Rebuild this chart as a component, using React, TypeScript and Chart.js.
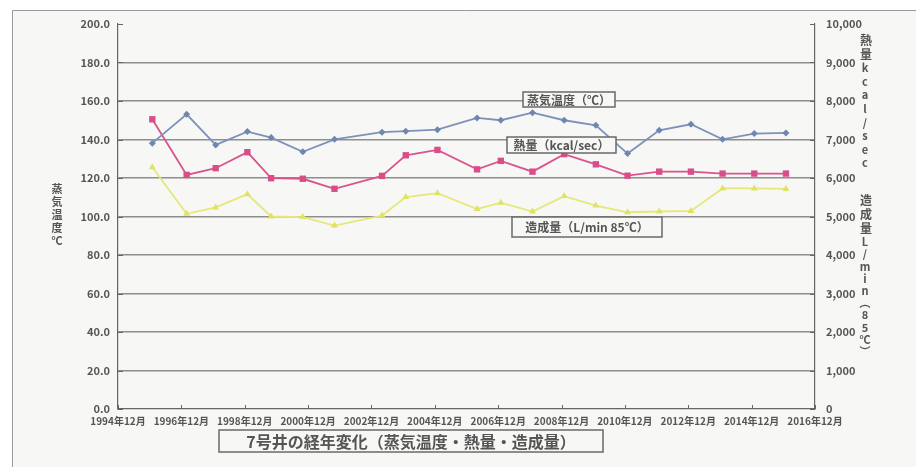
import React, { useEffect, useRef } from "react";
import { Chart, registerables } from "chart.js";

Chart.register(...registerables);

// ---- data ----
const measureDates = [
  "1996-01", "1997-02", "1998-01", "1999-01", "1999-10", "2000-10", "2001-10",
  "2003-04", "2004-01", "2005-01", "2006-04", "2007-01", "2008-01", "2009-01",
  "2010-01", "2011-01", "2012-01", "2013-01", "2014-01", "2015-01", "2016-01",
];
const steamTemp = [
  138.1, 153.1, 137.2, 144.1, 141.0, 133.6, 140.1, 143.8, 144.3, 145.1, 151.2,
  150.0, 153.9, 150.0, 147.4, 132.7, 144.8, 147.9, 140.1, 143.1, 143.4,
];
const heatOutput = [
  7525, 6080, 6255, 6670, 5995, 5980, 5720, 6055, 6590, 6730, 6225, 6445, 6165,
  6620, 6355, 6060, 6165, 6165, 6115, 6115, 6115,
];
const flowRate = [
  6280, 5070, 5235, 5580, 5000, 4985, 4765, 5025, 5505, 5605, 5195, 5360, 5130,
  5530, 5285, 5110, 5130, 5145, 5730, 5730, 5715,
];
const xTickLabels = [
  "1994年12月", "1996年12月", "1998年12月", "2000年12月", "2002年12月", "2004年12月",
  "2006年12月", "2008年12月", "2010年12月", "2012年12月", "2014年12月", "2016年12月",
];
const axisStart = "1994-12";
const axisEnd = "2016-12";
const titleText = "7号井の経年変化（蒸気温度・熱量・造成量）";
const labelSteam = "蒸気温度（℃）";
const labelHeat = "熱量（kcal/sec）";
const labelFlow = "造成量（L/min 85℃）";
const leftAxisTitle = ["蒸", "気", "温", "度", "℃"];
const rightTitleHeatCjk = ["熱", "量"];
const rightTitleHeatUnit = ["k", "c", "a", "l", "/", "s", "e", "c"];
const rightTitleFlowCjk = ["造", "成", "量"];
const rightTitleFlowUnit = ["L", "/", "m", "i", "n", "︵", "8", "5", "℃", "︶"];

const toMonths = (s: string) => {
  const [y, m] = s.split("-").map(Number);
  const [by, bm] = axisStart.split("-").map(Number);
  return (y - by) * 12 + (m - bm);
};

const FONT = "'Noto Sans CJK JP', 'Noto Sans', sans-serif";
const TEXT = "#555555";
const W = 916;
const H = 467;

const decorPlugin = {
  id: "decor",
  beforeDraw(chart: any) {
    const ctx = chart.ctx as CanvasRenderingContext2D;
    ctx.save();
    ctx.fillStyle = "#ffffff";
    ctx.fillRect(0, 0, W, H);
    ctx.fillStyle = "#f7f7f5";
    ctx.fillRect(12, 10, W - 12, H - 10);
    ctx.strokeStyle = "#9a9a9a";
    ctx.lineWidth = 1;
    ctx.beginPath();
    ctx.moveTo(12.5, H);
    ctx.lineTo(12.5, 10.5);
    ctx.lineTo(W, 10.5);
    ctx.stroke();
    ctx.restore();
  },
  afterDatasetsDraw(chart: any) {
    const ctx = chart.ctx as CanvasRenderingContext2D;
    const a = chart.chartArea;
    const box = (text: string, x: number, y: number, w: number, h: number, size: number) => {
      ctx.save();
      ctx.fillStyle = "#f7f7f5";
      ctx.fillRect(x, y, w, h);
      ctx.strokeStyle = "#6a6a6a";
      ctx.lineWidth = 1.5;
      ctx.strokeRect(x, y, w, h);
      ctx.fillStyle = TEXT;
      ctx.font = `bold ${size}px ${FONT}`;
      ctx.textAlign = "center";
      ctx.textBaseline = "middle";
      ctx.fillText(text, x + w / 2, y + h / 2 + 0.5);
      ctx.restore();
    };
    box(labelSteam, a.left + 405, 92, 92, 15, 12);
    box(labelHeat, a.left + 389, 137, 109, 16, 12);
    box(labelFlow, a.left + 394, 217, 150, 20, 12);

    // inner tick marks
    ctx.save();
    ctx.strokeStyle = "#666666";
    ctx.lineWidth = 1;
    const xs = chart.scales.x;
    for (let i = 0; i < xTickLabels.length; i++) {
      const px = Math.round(xs.getPixelForValue(i * 24)) + 0.5;
      ctx.beginPath();
      ctx.moveTo(px, a.bottom);
      ctx.lineTo(px, a.bottom - 4);
      ctx.stroke();
    }
    const yl = chart.scales.y;
    const yr = chart.scales.y1;
    for (let v = 0; v <= 200; v += 20) {
      const py = Math.round(yl.getPixelForValue(v)) + 0.5;
      ctx.beginPath();
      ctx.moveTo(a.left, py);
      ctx.lineTo(a.left + 5, py);
      ctx.stroke();
    }
    for (let v = 0; v <= 10000; v += 1000) {
      const py = Math.round(yr.getPixelForValue(v)) + 0.5;
      ctx.beginPath();
      ctx.moveTo(a.right, py);
      ctx.lineTo(a.right - 5, py);
      ctx.stroke();
    }
    ctx.restore();
  },
  afterDraw(chart: any) {
    const ctx = chart.ctx as CanvasRenderingContext2D;
    ctx.save();
    // title box
    ctx.strokeStyle = "#6a6a6a";
    ctx.lineWidth = 1.5;
    ctx.strokeRect(219, 430, 384, 22);
    ctx.fillStyle = TEXT;
    ctx.font = `bold 16px ${FONT}`;
    ctx.textAlign = "center";
    ctx.textBaseline = "middle";
    ctx.fillText(titleText, 411, 441.5);

    const vert = (chars: string[], x: number, y0: number, step: number, size: number) => {
      ctx.font = `bold ${size}px ${FONT}`;
      chars.forEach((c, i) => ctx.fillText(c, x, y0 + i * step));
    };
    vert(leftAxisTitle, 57, 189, 13, 11);
    vert(rightTitleHeatCjk, 866, 40, 14, 12);
    vert(rightTitleHeatUnit, 865, 68, 13.6, 11);
    vert(rightTitleFlowCjk, 866, 200, 14, 12);
    vert(rightTitleFlowUnit, 865, 242, 12.2, 11);
    ctx.restore();
  },
};

export default function App() {
  const ref = useRef<HTMLCanvasElement | null>(null);

  useEffect(() => {
    if (!ref.current) return;
    const xVals = measureDates.map(toMonths);
    const chart = new Chart(ref.current, {
      type: "line",
      data: {
        datasets: [
          {
            label: "蒸気温度",
            data: xVals.map((x, i) => ({ x, y: steamTemp[i] })),
            yAxisID: "y",
            borderColor: "#7d92b8",
            backgroundColor: "#6f86b0",
            borderWidth: 1.8,
            pointStyle: "rectRot",
            pointRadius: 3.5,
            pointBorderWidth: 0,
            tension: 0,
          },
          {
            label: "熱量",
            data: xVals.map((x, i) => ({ x, y: heatOutput[i] })),
            yAxisID: "y1",
            borderColor: "#d9548d",
            backgroundColor: "#d94d88",
            borderWidth: 1.8,
            pointStyle: "rect",
            pointRadius: 4.5,
            pointBorderWidth: 0,
            tension: 0,
          },
          {
            label: "造成量",
            data: xVals.map((x, i) => ({ x, y: flowRate[i] })),
            yAxisID: "y1",
            borderColor: "#e6e878",
            backgroundColor: "#e0e266",
            borderWidth: 1.8,
            pointStyle: "triangle",
            pointRadius: 4,
            pointBorderWidth: 0,
            tension: 0,
          },
        ],
      },
      options: {
        responsive: false,
        animation: false,
        layout: { padding: { top: 24, left: 0, right: 0, bottom: 0 } },
        plugins: {
          legend: { display: false },
          tooltip: { enabled: false },
          title: { display: false },
        },
        scales: {
          x: {
            type: "linear",
            min: toMonths(axisStart),
            max: toMonths(axisEnd),
            afterBuildTicks: (scale: any) => {
              scale.ticks = xTickLabels.map((_, i) => ({ value: i * 24 }));
            },
            afterFit: (scale: any) => {
              scale.height = 58;
            },
            grid: { display: false, drawTicks: false },
            border: { display: true, color: "#666666", width: 1.2 },
            ticks: {
              autoSkip: false,
              maxRotation: 0,
              padding: 6,
              color: TEXT,
              font: { family: FONT, size: 10, weight: "bold" },
              callback: (_v: any, i: number) => xTickLabels[i],
            },
          },
          y: {
            type: "linear",
            position: "left",
            min: 0,
            max: 200,
            afterFit: (scale: any) => {
              scale.width = 118;
            },
            grid: {
              drawTicks: false,
              lineWidth: 1.5,
              color: (c: any) =>
                c.tick && (c.tick.value === 0 || c.tick.value === 200) ? "rgba(0,0,0,0)" : "#8e8e8e",
            },
            border: { display: true, color: "#666666", width: 1.2 },
            ticks: {
              stepSize: 20,
              padding: 8,
              color: TEXT,
              font: { family: FONT, size: 11, weight: "bold" },
              callback: (v: any) => Number(v).toFixed(1),
            },
          },
          y1: {
            type: "linear",
            position: "right",
            min: 0,
            max: 10000,
            afterFit: (scale: any) => {
              scale.width = W - 815;
            },
            grid: { display: false, drawTicks: false },
            border: { display: true, color: "#666666", width: 1.2 },
            ticks: {
              stepSize: 1000,
              padding: 11,
              color: TEXT,
              font: { family: FONT, size: 11, weight: "bold" },
              callback: (v: any) => Number(v).toLocaleString("en-US"),
            },
          },
        },
      },
      plugins: [decorPlugin],
    });
    return () => chart.destroy();
  }, []);

  return (
    <div style={{ position: "fixed", left: 0, top: 0, width: W, height: H, background: "#ffffff" }}>
      <canvas ref={ref} width={W} height={H} style={{ display: "block", width: W, height: H }} />
    </div>
  );
}
